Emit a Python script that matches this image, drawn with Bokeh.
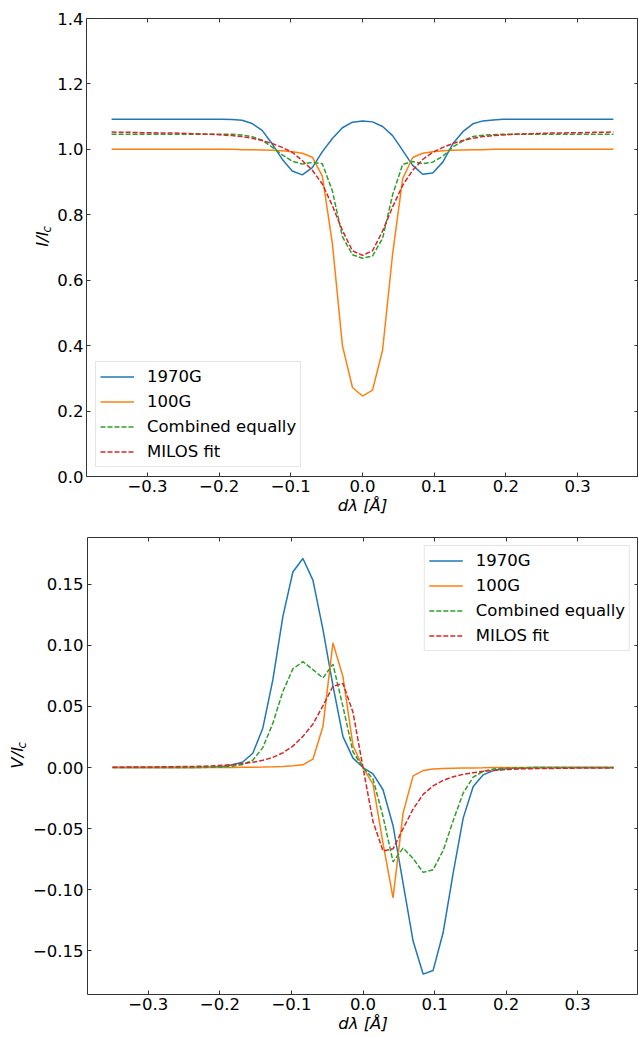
import numpy as np
from bokeh.plotting import figure
from bokeh.models import (Range1d, FixedTicker, CustomJSTickFormatter, LinearAxis,
                          Legend, LegendItem)
from bokeh.layouts import column, row
from bokeh.core.properties import value
from bokeh.embed import file_html
from bokeh.resources import INLINE

# ---------------- data ----------------
dlam = np.linspace(-0.35, 0.35, 51)

I_1970G = [1.092, 1.092, 1.092, 1.092, 1.092, 1.092, 1.092, 1.092, 1.092, 1.092, 1.092, 1.092,
           1.091, 1.089, 1.079, 1.058, 1.017, 0.970, 0.934, 0.922, 0.944, 0.993, 1.033, 1.066, 1.083,
           1.087,
           1.084, 1.070, 1.042, 0.997, 0.951, 0.924, 0.928, 0.961, 1.017, 1.054, 1.078, 1.087, 1.090,
           1.092, 1.092, 1.092, 1.092, 1.092, 1.092, 1.092, 1.092, 1.092, 1.092, 1.092, 1.092]
I_100G = [1.000, 1.000, 1.000, 1.000, 1.000, 1.000, 1.000, 1.000, 1.000, 1.000, 1.000, 1.000, 1.000,
          0.999, 0.999, 0.998, 0.997, 0.996, 0.993, 0.988, 0.976, 0.918, 0.712, 0.400, 0.272,
          0.246,
          0.264, 0.386, 0.680, 0.910, 0.975, 0.988, 0.993, 0.996, 0.997, 0.998, 0.999, 0.999,
          1.000, 1.000, 1.000, 1.000, 1.000, 1.000, 1.000, 1.000, 1.000, 1.000, 1.000, 1.000, 1.000]
I_comb = [1.046, 1.046, 1.046, 1.046, 1.046, 1.046, 1.046, 1.046, 1.046, 1.046, 1.046, 1.046,
          1.046, 1.044, 1.039, 1.028, 1.007, 0.983, 0.964, 0.955, 0.960, 0.956, 0.873, 0.733, 0.678,
          0.667,
          0.674, 0.728, 0.861, 0.954, 0.963, 0.956, 0.961, 0.979, 1.007, 1.026, 1.039, 1.043, 1.045,
          1.046, 1.046, 1.046, 1.046, 1.046, 1.046, 1.046, 1.046, 1.046, 1.046, 1.046, 1.046]
I_milos = [1.053, 1.052, 1.052, 1.051, 1.051, 1.050, 1.050, 1.049, 1.048, 1.047, 1.046, 1.044,
           1.042, 1.039, 1.034, 1.027, 1.018, 1.006, 0.991, 0.966, 0.936, 0.894, 0.828, 0.752, 0.690,
           0.676,
           0.690, 0.750, 0.824, 0.890, 0.936, 0.969, 0.991, 1.006, 1.018, 1.027, 1.034, 1.039, 1.042,
           1.044, 1.046, 1.047, 1.048, 1.049, 1.050, 1.050, 1.051, 1.051, 1.052, 1.052, 1.053]

V_1970G = [0.0, 0.0, 0.0, 0.0, 0.0, 0.0, 0.0, 0.0, 0.0,
           0.0002, 0.0004, 0.0009, 0.0022, 0.0045, 0.0117, 0.0322, 0.0717, 0.1234, 0.1600, 0.1710,
           0.1533, 0.1130, 0.0670, 0.0253, 0.0077,
           0.0,
           -0.0052, -0.0182, -0.0476, -0.0945, -0.1420, -0.1690, -0.1660, -0.1350, -0.0864, -0.0414,
           -0.0155, -0.0060, -0.0025, -0.0012, -0.0006, -0.0003,
           0.0, 0.0, 0.0, 0.0, 0.0, 0.0, 0.0, 0.0, 0.0]
V_100G = [0.0, 0.0, 0.0, 0.0, 0.0, 0.0, 0.0, 0.0, 0.0, 0.0, 0.0, 0.0, 0.0,
          0.0002, 0.0003, 0.0004, 0.0006, 0.0009, 0.0014, 0.0022, 0.0068, 0.0335, 0.1020, 0.0743, 0.0180,
          0.0,
          -0.0135, -0.0620, -0.1067, -0.0373, -0.0068, -0.0025, -0.0012, -0.0008, -0.0005, -0.0004,
          -0.0003, -0.0002,
          0.0, 0.0, 0.0, 0.0, 0.0, 0.0, 0.0, 0.0, 0.0, 0.0, 0.0, 0.0, 0.0]
V_comb = [0.0, 0.0, 0.0, 0.0, 0.0, 0.0, 0.0, 0.0, 0.0,
          0.0001, 0.0002, 0.0005, 0.0011, 0.0024, 0.0060, 0.0163, 0.0362, 0.0622, 0.0807, 0.0866,
          0.0801, 0.0733, 0.0845, 0.0498, 0.0129,
          0.0,
          -0.0094, -0.0401, -0.0772, -0.0659, -0.0744, -0.0858, -0.0836, -0.0679, -0.0435, -0.0209,
          -0.0079, -0.0031, -0.0013, -0.0006, -0.0003, -0.0002,
          0.0, 0.0, 0.0, 0.0, 0.0, 0.0, 0.0, 0.0, 0.0]
V_milos = [0.0003, 0.0003, 0.0004, 0.0004, 0.0005, 0.0006, 0.0007, 0.0008, 0.0009, 0.0011, 0.0014,
           0.0018, 0.0024, 0.0032, 0.0043, 0.0059, 0.0083, 0.0120, 0.0175, 0.0255, 0.0355, 0.0505,
           0.0665, 0.0688, 0.0452,
           0.0,
           -0.0442, -0.0683, -0.0665, -0.0500, -0.0340, -0.0220, -0.0150, -0.0105, -0.0076, -0.0056,
           -0.0042, -0.0031, -0.0024, -0.0018, -0.0014, -0.0011, -0.0009, -0.0008, -0.0007, -0.0006,
           -0.0005, -0.0004, -0.0004, -0.0003, -0.0003]

series_names = ["1970G", "100G", "Combined equally", "MILOS fit"]
x_ticks = [-0.3, -0.2, -0.1, 0.0, 0.1, 0.2, 0.3]
I_ticks = [0.0, 0.2, 0.4, 0.6, 0.8, 1.0, 1.2, 1.4]
V_ticks = [-0.15, -0.10, -0.05, 0.0, 0.05, 0.10, 0.15]
x_label = "dλ [Å]"

# ---------------- styles ----------------
COLORS = ["#1f77b4", "#ff7f0e", "#2ca02c", "#d62728"]
DASHES = ["solid", "solid", "5 2", "5 2"]
FONT = "DejaVu Sans"
FS = "16.5px"
SPINE = "#333333"


def fmt_code(decimals):
    return "return tick.toFixed(%d).replace('-', '\\u2212');" % decimals


def style_axis(ax, ticks, decimals, show, standoff):
    ax.ticker = FixedTicker(ticks=ticks, minor_ticks=[])
    if show:
        ax.formatter = CustomJSTickFormatter(code=fmt_code(decimals))
        ax.major_label_text_font_size = FS
    else:
        ax.formatter = CustomJSTickFormatter(code="return '';")
        ax.major_label_text_font_size = "0px"
    ax.major_label_text_font = FONT
    ax.major_label_text_color = "black"
    ax.major_label_standoff = standoff
    ax.major_tick_in = 4
    ax.major_tick_out = 0
    ax.major_tick_line_color = SPINE
    ax.major_tick_line_width = 1
    ax.minor_tick_line_color = None
    ax.axis_line_color = None


def label_panel(width, height, main_text, main_xy, sub_xy):
    # narrow side figure that carries the rotated y-axis title (with subscript c)
    q = figure(width=width, height=height, x_range=Range1d(0, width), y_range=Range1d(0, height),
               output_backend="svg", toolbar_location=None, x_axis_type=None, y_axis_type=None,
               min_border_left=0, min_border_right=0, min_border_top=0, min_border_bottom=0)
    q.xgrid.visible = False
    q.ygrid.visible = False
    q.outline_line_color = None
    q.background_fill_color = "white"
    q.border_fill_color = "white"
    q.text(x=[main_xy[0]], y=[main_xy[1]], text=[main_text], angle=np.pi / 2,
           text_align=value("center"), text_baseline=value("middle"),
           text_font=value(FONT), text_font_style=value("italic"),
           text_font_size=value(FS), text_color="black")
    q.text(x=[sub_xy[0]], y=[sub_xy[1]], text=["c"], angle=np.pi / 2,
           text_align=value("center"), text_baseline=value("middle"),
           text_font=value(FONT), text_font_style=value("italic"),
           text_font_size=value("11.5px"), text_color="black")
    return q


def make_panel(width, height, yr, bleft, btop, bbot, yvals, yticks, ydec, legend_loc, lmargin,
               ystandoff):
    p = figure(width=width, height=height, x_range=Range1d(-0.385, 0.385),
               y_range=Range1d(*yr), output_backend="svg", toolbar_location=None,
               min_border_left=bleft, min_border_right=0, min_border_top=btop,
               min_border_bottom=bbot)
    p.xgrid.visible = False
    p.ygrid.visible = False
    p.outline_line_color = SPINE
    p.outline_line_width = 1
    p.background_fill_color = "white"
    p.border_fill_color = "white"

    style_axis(p.xaxis[0], x_ticks, 1, True, 3)
    style_axis(p.yaxis[0], yticks, ydec, True, ystandoff)
    p.xaxis[0].axis_label = x_label
    p.xaxis[0].axis_label_text_font = FONT
    p.xaxis[0].axis_label_text_font_style = "italic"
    p.xaxis[0].axis_label_text_font_size = FS
    p.xaxis[0].axis_label_text_color = "black"
    p.xaxis[0].axis_label_standoff = 1

    top_ax = LinearAxis()
    style_axis(top_ax, x_ticks, 1, False, 0)
    p.add_layout(top_ax, "above")
    right_ax = LinearAxis()
    style_axis(right_ax, yticks, ydec, False, 0)
    p.add_layout(right_ax, "right")

    items = []
    for name, ys, col, dash in zip(series_names, yvals, COLORS, DASHES):
        r = p.line(dlam, ys, line_color=col, line_width=1.5, line_dash=dash)
        items.append(LegendItem(label=name, renderers=[r]))

    legend = Legend(items=items, location=legend_loc, label_text_font=FONT,
                    label_text_font_size=FS, label_text_color="black",
                    glyph_width=34, glyph_height=21, label_height=21, label_standoff=13,
                    spacing=4, padding=4, margin=lmargin, border_line_color="#cccccc",
                    border_line_width=1, background_fill_color="white",
                    background_fill_alpha=0.8)
    p.add_layout(legend)
    return p


# top row: 520 px tall, frame 18..476 ; label centred near page (42.3, 250.4), sub c at (46.8, 239.5)
lab_top = label_panel(54, 520, "I/I", (42.3, 520 - 250.4), (46.8, 520 - 239.5))
p_top = make_panel(584, 520, (0.0, 1.4), 30, 18, 44,
                   [I_1970G, I_100G, I_comb, I_milos], I_ticks, 1, "bottom_left", 9, 3)

# bottom row: 517 px tall (page y 520..1037), frame 537..994
lab_bot = label_panel(29, 517, "V/I", (17.3, 1037 - 769.2), (21.8, 1037 - 755.2))
p_bot = make_panel(609, 517, (-0.1857, 0.1882), 55, 17, 43,
                   [V_1970G, V_100G, V_comb, V_milos], V_ticks, 2, "top_right", 8, 4)

layout = column(row(lab_top, p_top), row(lab_bot, p_bot))
with open("out.html", "w", encoding="utf-8") as f:
    f.write(file_html(layout, INLINE))
